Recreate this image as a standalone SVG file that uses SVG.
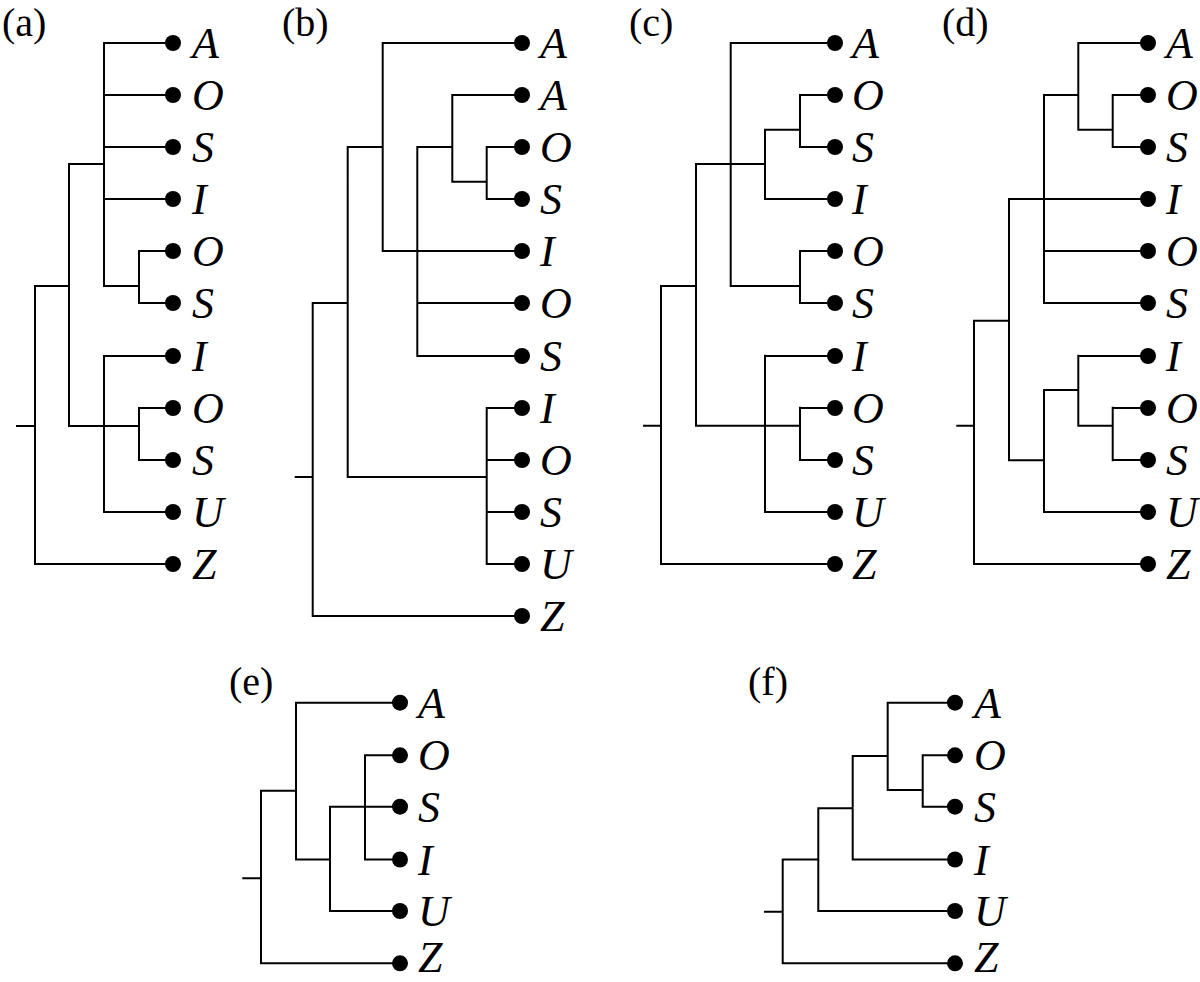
<svg xmlns="http://www.w3.org/2000/svg" width="1200" height="982" viewBox="0 0 1200 982">
<style>
.e{fill:none;stroke:#000;stroke-width:2;stroke-linecap:square}
.d{fill:#000}
.t{font-family:"Liberation Serif",serif;font-style:italic;font-size:44px;fill:#000}
.p{font-family:"Liberation Serif",serif;font-size:40px;fill:#000}
</style>
<rect width="1200" height="982" fill="#fff"/>
<g id="panel-labels">
<text class="p" x="2" y="36">(a)</text>
<text class="p" x="282" y="36">(b)</text>
<text class="p" x="629" y="36">(c)</text>
<text class="p" x="942" y="36">(d)</text>
<text class="p" x="229" y="695">(e)</text>
<text class="p" x="748" y="695">(f)</text>
</g>
<g id="connectors">
<path id="edges-a" class="e" d="M104 43H173M104 95H173M104 147H173M104 199H173M139 251H173M139 303H173M104 356H173M139 408H173M139 460H173M104 512H173M35 564H173
M104 43V286M139 251V303M104 286H139M69 164H104M69 164V426M69 426H139M104 356V512M139 408V460M35 286V564M35 286H69M17 426H35"/>
<path id="edges-b" class="e" d="M382.7 43H522M452.3 95H522M486.7 147H522M486.7 199H522M382.7 251H522M417.3 303H522M417.3 356H522M486.7 408H522M486.7 460H522M486.7 512H522M486.7 564H522M312.7 616H522
M382.7 43V251M347.7 147H382.7M452.3 95V181.7M417.3 147H452.3M486.7 147V199M452.3 181.7H486.7M417.3 147V356M347.7 147V477M347.7 477H486.7M486.7 408V564M312.7 303V616M312.7 303H347.7M295.7 477H312.7"/>
<path id="edges-c" class="e" d="M730.7 43H835M800 95H835M800 147H835M765 199H835M800 251H835M800 303H835M765 356H835M800 408H835M800 460H835M765 512H835M661 564H835
M730.7 43V286M696 164H765M765 129.7V199M765 129.7H800M800 95V147M730.7 286H800M800 251V303M696 164V425.7M696 425.7H800M765 355.7V512M800 407.7V460M661 286V564M661 286H696M644 425.7H661"/>
<path id="edges-d" class="e" d="M1078.3 43H1148M1112.7 95H1148M1112.7 147H1148M1009 199H1148M1044 251H1148M1044 303H1148M1078.3 356H1148M1112.7 408H1148M1112.7 460H1148M1044 512H1148M974 564H1148
M1078.3 43V129.7M1078.3 129.7H1112.7M1112.7 95V147M1044 95V303M1044 95H1078.3M1009 199V460.3M974 320.7H1009M1044 390V512M1009 460.3H1044M1078.3 355.7V425.7M1044 390H1078.3M1112.7 407.7V460.3M1078.3 425.7H1112.7M974 320.7V564M957.3 425.7H974"/>
<path id="edges-e" class="e" d="M296 702.7H400M365 755.3H400M330 806.7H400M365 859.5H400M330 911H400M261 963.3H400
M296 702.7V859.5M365 755.3V859.5M330 806.7V911M296 859.5H330M261 790.7H296M261 790.7V963.3M243.3 878.3H261"/>
<path id="edges-f" class="e" d="M887.7 702.7H955M922.7 755.3H955M922.7 806.7H955M852.7 859.5H955M818.3 911H955M782.7 963.3H955
M887.7 702.7V790M887.7 790H922.7M922.7 755.3V806.7M852.7 756V859.5M852.7 756H887.7M818.3 808.3V911M818.3 808.3H852.7M782.7 859.5V963.3M782.7 859.5H818.3M765 911.7H782.7"/>
</g>
<g id="tree-a">
<g id="a-A"><circle class="d" cx="173" cy="43" r="8"/><text class="t" x="192" y="58">A</text></g>
<g id="a-O1"><circle class="d" cx="173" cy="95" r="8"/><text class="t" x="192" y="110">O</text></g>
<g id="a-S1"><circle class="d" cx="173" cy="147" r="8"/><text class="t" x="192" y="162">S</text></g>
<g id="a-I1"><circle class="d" cx="173" cy="199" r="8"/><text class="t" x="192" y="214">I</text></g>
<g id="a-O2"><circle class="d" cx="173" cy="251" r="8"/><text class="t" x="192" y="266">O</text></g>
<g id="a-S2"><circle class="d" cx="173" cy="303" r="8"/><text class="t" x="192" y="318">S</text></g>
<g id="a-I2"><circle class="d" cx="173" cy="356" r="8"/><text class="t" x="192" y="371">I</text></g>
<g id="a-O3"><circle class="d" cx="173" cy="408" r="8"/><text class="t" x="192" y="423">O</text></g>
<g id="a-S3"><circle class="d" cx="173" cy="460" r="8"/><text class="t" x="192" y="475">S</text></g>
<g id="a-U"><circle class="d" cx="173" cy="512" r="8"/><text class="t" x="192" y="527">U</text></g>
<g id="a-Z"><circle class="d" cx="173" cy="564" r="8"/><text class="t" x="192" y="579">Z</text></g>
</g>
<g id="tree-b">
<g id="b-A1"><circle class="d" cx="522" cy="43" r="8"/><text class="t" x="540" y="58">A</text></g>
<g id="b-A2"><circle class="d" cx="522" cy="95" r="8"/><text class="t" x="540" y="110">A</text></g>
<g id="b-O1"><circle class="d" cx="522" cy="147" r="8"/><text class="t" x="540" y="162">O</text></g>
<g id="b-S1"><circle class="d" cx="522" cy="199" r="8"/><text class="t" x="540" y="214">S</text></g>
<g id="b-I1"><circle class="d" cx="522" cy="251" r="8"/><text class="t" x="540" y="266">I</text></g>
<g id="b-O2"><circle class="d" cx="522" cy="303" r="8"/><text class="t" x="540" y="318">O</text></g>
<g id="b-S2"><circle class="d" cx="522" cy="356" r="8"/><text class="t" x="540" y="371">S</text></g>
<g id="b-I2"><circle class="d" cx="522" cy="408" r="8"/><text class="t" x="540" y="423">I</text></g>
<g id="b-O3"><circle class="d" cx="522" cy="460" r="8"/><text class="t" x="540" y="475">O</text></g>
<g id="b-S3"><circle class="d" cx="522" cy="512" r="8"/><text class="t" x="540" y="527">S</text></g>
<g id="b-U"><circle class="d" cx="522" cy="564" r="8"/><text class="t" x="540" y="579">U</text></g>
<g id="b-Z"><circle class="d" cx="522" cy="616" r="8"/><text class="t" x="540" y="631">Z</text></g>
</g>
<g id="tree-c">
<g id="c-A"><circle class="d" cx="835" cy="43" r="8"/><text class="t" x="852" y="58">A</text></g>
<g id="c-O1"><circle class="d" cx="835" cy="95" r="8"/><text class="t" x="852" y="110">O</text></g>
<g id="c-S1"><circle class="d" cx="835" cy="147" r="8"/><text class="t" x="852" y="162">S</text></g>
<g id="c-I1"><circle class="d" cx="835" cy="199" r="8"/><text class="t" x="852" y="214">I</text></g>
<g id="c-O2"><circle class="d" cx="835" cy="251" r="8"/><text class="t" x="852" y="266">O</text></g>
<g id="c-S2"><circle class="d" cx="835" cy="303" r="8"/><text class="t" x="852" y="318">S</text></g>
<g id="c-I2"><circle class="d" cx="835" cy="356" r="8"/><text class="t" x="852" y="371">I</text></g>
<g id="c-O3"><circle class="d" cx="835" cy="408" r="8"/><text class="t" x="852" y="423">O</text></g>
<g id="c-S3"><circle class="d" cx="835" cy="460" r="8"/><text class="t" x="852" y="475">S</text></g>
<g id="c-U"><circle class="d" cx="835" cy="512" r="8"/><text class="t" x="852" y="527">U</text></g>
<g id="c-Z"><circle class="d" cx="835" cy="564" r="8"/><text class="t" x="852" y="579">Z</text></g>
</g>
<g id="tree-d">
<g id="d-A"><circle class="d" cx="1148" cy="43" r="8"/><text class="t" x="1166" y="58">A</text></g>
<g id="d-O1"><circle class="d" cx="1148" cy="95" r="8"/><text class="t" x="1166" y="110">O</text></g>
<g id="d-S1"><circle class="d" cx="1148" cy="147" r="8"/><text class="t" x="1166" y="162">S</text></g>
<g id="d-I1"><circle class="d" cx="1148" cy="199" r="8"/><text class="t" x="1166" y="214">I</text></g>
<g id="d-O2"><circle class="d" cx="1148" cy="251" r="8"/><text class="t" x="1166" y="266">O</text></g>
<g id="d-S2"><circle class="d" cx="1148" cy="303" r="8"/><text class="t" x="1166" y="318">S</text></g>
<g id="d-I2"><circle class="d" cx="1148" cy="356" r="8"/><text class="t" x="1166" y="371">I</text></g>
<g id="d-O3"><circle class="d" cx="1148" cy="408" r="8"/><text class="t" x="1166" y="423">O</text></g>
<g id="d-S3"><circle class="d" cx="1148" cy="460" r="8"/><text class="t" x="1166" y="475">S</text></g>
<g id="d-U"><circle class="d" cx="1148" cy="512" r="8"/><text class="t" x="1166" y="527">U</text></g>
<g id="d-Z"><circle class="d" cx="1148" cy="564" r="8"/><text class="t" x="1166" y="579">Z</text></g>
</g>
<g id="tree-e">
<g id="e-A"><circle class="d" cx="400" cy="702.7" r="8"/><text class="t" x="418" y="717.7">A</text></g>
<g id="e-O"><circle class="d" cx="400" cy="755.3" r="8"/><text class="t" x="418" y="770.3">O</text></g>
<g id="e-S"><circle class="d" cx="400" cy="806.7" r="8"/><text class="t" x="418" y="821.7">S</text></g>
<g id="e-I"><circle class="d" cx="400" cy="859.5" r="8"/><text class="t" x="418" y="874.5">I</text></g>
<g id="e-U"><circle class="d" cx="400" cy="911" r="8"/><text class="t" x="418" y="926">U</text></g>
<g id="e-Z"><circle class="d" cx="400" cy="963.3" r="8"/><text class="t" x="418" y="972">Z</text></g>
</g>
<g id="tree-f">
<g id="f-A"><circle class="d" cx="955" cy="702.7" r="8"/><text class="t" x="974" y="717.7">A</text></g>
<g id="f-O"><circle class="d" cx="955" cy="755.3" r="8"/><text class="t" x="974" y="770.3">O</text></g>
<g id="f-S"><circle class="d" cx="955" cy="806.7" r="8"/><text class="t" x="974" y="821.7">S</text></g>
<g id="f-I"><circle class="d" cx="955" cy="859.5" r="8"/><text class="t" x="974" y="874.5">I</text></g>
<g id="f-U"><circle class="d" cx="955" cy="911" r="8"/><text class="t" x="974" y="926">U</text></g>
<g id="f-Z"><circle class="d" cx="955" cy="963.3" r="8"/><text class="t" x="974" y="972">Z</text></g>
</g>
</svg>
